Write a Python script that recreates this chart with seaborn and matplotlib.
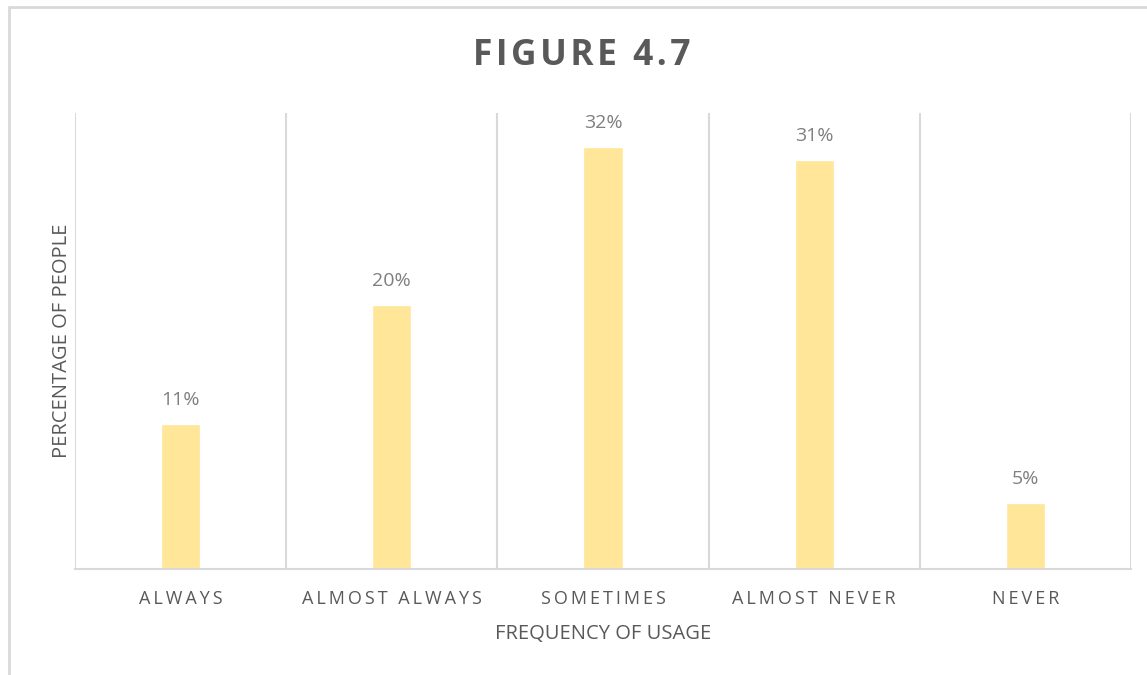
import matplotlib
matplotlib.use("Agg")
import matplotlib.pyplot as plt
import seaborn as sns
import pandas as pd
from matplotlib.lines import Line2D

# Survey results
categories = ["ALWAYS", "ALMOST ALWAYS", "SOMETIMES", "ALMOST NEVER", "NEVER"]
percentages = [11, 20, 32, 31, 5]

title_text = "FIGURE 4.7"
x_label = "FREQUENCY OF USAGE"
y_label = "PERCENTAGE OF PEOPLE"

sns.set_theme(style="white")
plt.rcParams["font.family"] = ["Open Sans", "DejaVu Sans"]

TEXT = "#595959"
LABEL = "#7f7f7f"
GRID = "#d9d9d9"
BAR = "#FFE699"


def spaced(s, gap="\u2009"):
    return gap.join(s)


df = pd.DataFrame({"category": categories, "pct": percentages})

fig = plt.figure(figsize=(11.47, 6.75), dpi=100)
ax = fig.add_axes([75 / 1147, 106 / 675, (1131 - 75) / 1147, (569 - 113) / 675])

sns.barplot(data=df, x="category", y="pct", color=BAR, saturation=1,
            width=0.185, ax=ax, zorder=3)

ax.set_xlim(-0.5, len(categories) - 0.5)
ax.set_ylim(0, 34.6)

# vertical separators between categories
for b in range(len(categories) + 1):
    ax.axvline(b - 0.5, color=GRID, lw=1.5, zorder=1)

for side in ["top", "right", "left"]:
    ax.spines[side].set_visible(False)
ax.spines["bottom"].set_color(GRID)
ax.spines["bottom"].set_linewidth(1.5)
ax.spines["bottom"].set_zorder(4)

ax.set_yticks([])
ax.set_xticks(range(len(categories)))
ax.set_xticklabels([spaced(c) for c in categories], color=TEXT, fontsize=13)
ax.tick_params(axis="x", length=0, pad=15)

ax.set_xlabel(x_label, color=TEXT, fontsize=14.5, labelpad=12)
ax.set_ylabel(y_label, color=TEXT, fontsize=14.5, labelpad=2)

# value labels
for i, v in enumerate(percentages):
    ax.annotate(f"{v}%", (i, v), xytext=(0, 11), textcoords="offset points",
                ha="center", va="bottom", color=LABEL, fontsize=14)

fig.text(582 / 1147, 1 - 56 / 675, spaced(title_text, "\u200a"),
         ha="center", va="center", fontsize=25.5, fontweight="bold", color=TEXT)

# chart frame
fig.add_artist(Line2D([9 / 1147, 9 / 1147], [0, 1 - 7 / 675],
                      transform=fig.transFigure, color=GRID, lw=2))
fig.add_artist(Line2D([9 / 1147, 1], [1 - 7 / 675, 1 - 7 / 675],
                      transform=fig.transFigure, color=GRID, lw=2))

fig.savefig("out.png", dpi=100, facecolor="white")
